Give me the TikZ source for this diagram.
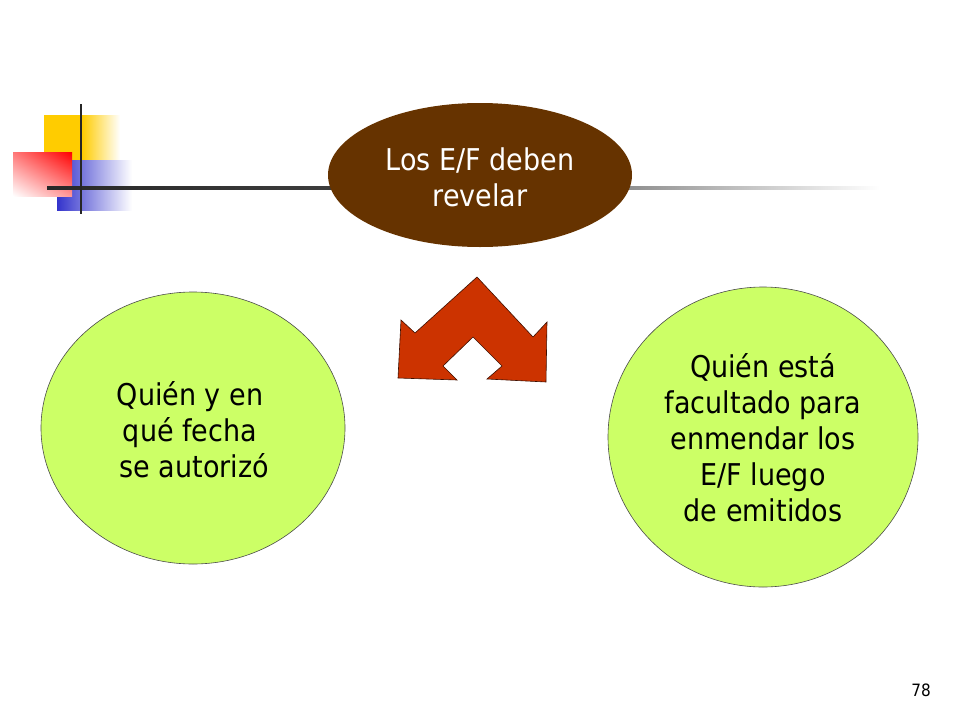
\documentclass[tikz,border=0pt]{standalone}
\usepackage{fontspec}
\setmainfont{DejaVu Sans Condensed}
\usetikzlibrary{shapes.geometric,shadings}
\begin{document}
\begin{tikzpicture}[x=1pt,y=-1pt,
  lbl/.style={font=\fontsize{30}{36}\selectfont,align=center},
]
\definecolor{brownE}{HTML}{663300}
\definecolor{lime}{HTML}{CCFF66}
\definecolor{arrowred}{HTML}{CC3300}
\useasboundingbox (0,0) rectangle (960,720);
% decoration
\shade[left color={rgb,255:red,255;green,204;blue,0},right color=white,middle color={rgb,255:red,255;green,204;blue,0}] (44,115) rectangle (120,162);
\shade[left color={rgb,255:red,51;green,51;blue,204},middle color={rgb,255:red,51;green,51;blue,204},right color=white] (57,160) rectangle (132,210);
\shade[upper right=red,upper left={rgb,255:red,255;green,120;blue,120},lower left=white,lower right={rgb,255:red,255;green,150;blue,150}] (13,152) rectangle (72,196);
\shade[left color={rgb,255:red,40;green,40;blue,40},right color=white,middle color={rgb,255:red,70;green,70;blue,70}] (47,186) rectangle (880,189);
\fill[black!85] (80,104) rectangle (82,214);
% ellipses
\node[ellipse,fill=brownE,minimum width=304,minimum height=144,inner sep=0] (top) at (480,175) {};
\node[lbl,text=white] (toptxt) at (480,177) {Los E/F deben\\revelar};
\node[ellipse,fill=lime,draw=black!70,line width=0.6,minimum width=304,minimum height=272,inner sep=0] (left) at (193,428) {};
\node[lbl] (lefttxt) at (190,430) {Quién y en\\qué fecha\\\ se autorizó};
\node[ellipse,fill=lime,draw=black!70,line width=0.6,minimum width=310,minimum height=300,inner sep=0] (right) at (763,437) {};
\node[lbl] (righttxt) at (763,438) {Quién está \\facultado para\\enmendar los\\E/F luego\\de emitidos};
% arrow
\filldraw[fill=arrowred,draw=black!70!arrowred,line width=0.6]
 (477,277) -- (533,337) -- (547,322) -- (546,382) -- (487,379) -- (502,366)
 -- (473,337) -- (443,366) -- (457,380) -- (398,378) -- (401,320) -- (415,333) -- cycle;
\node[font=\fontsize{17}{20}\selectfont] (num) at (921,690) {78};
\end{tikzpicture}
\end{document}
